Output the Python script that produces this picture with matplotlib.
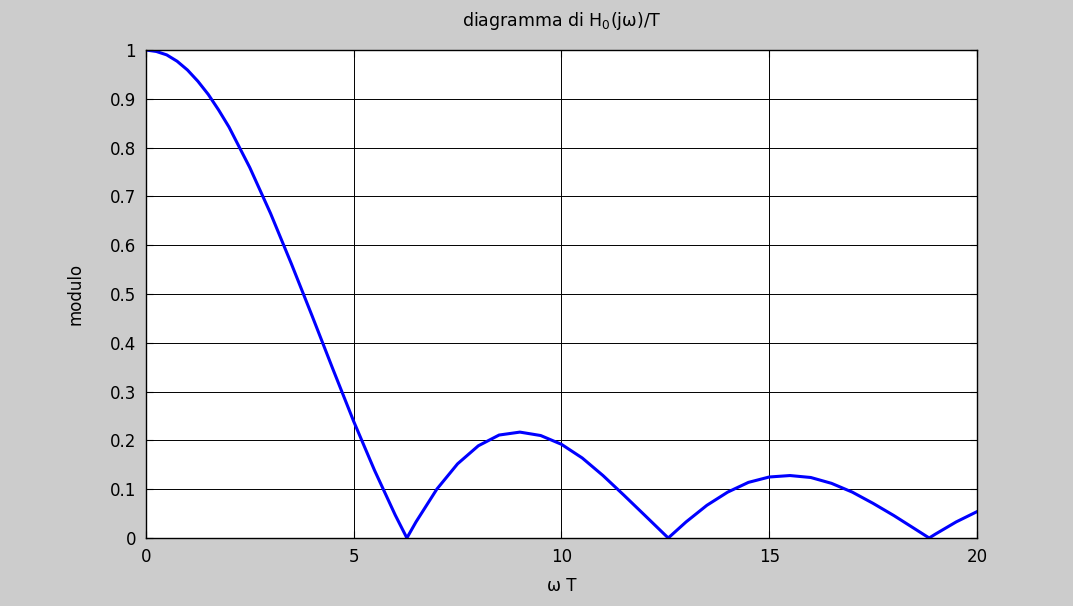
#modulus of H0(jw)/T, zero-order hold
import matplotlib
matplotlib.use("Agg")
import matplotlib.pyplot as plt

#values
wT = [0, 0.25, 0.5, 0.75, 1, 1.25, 1.5, 1.75, 2, 2.5, 3, 3.5, 4, 4.5, 5, 5.5, 6, 6.28,
      6.5, 7, 7.5, 8, 8.5, 9, 9.5, 10, 10.5, 11, 11.5, 12, 12.57, 13, 13.5, 14, 14.5,
      15, 15.5, 16, 16.5, 17, 17.5, 18, 18.5, 18.85, 19, 19.5, 20]
modulo = [1.0, 0.997, 0.99, 0.977, 0.959, 0.936, 0.909, 0.877, 0.842, 0.759, 0.665,
          0.562, 0.455, 0.346, 0.239, 0.139, 0.047, 0.0, 0.033, 0.100, 0.152, 0.189,
          0.211, 0.217, 0.210, 0.192, 0.164, 0.128, 0.088, 0.047, 0.0, 0.033, 0.067,
          0.094, 0.114, 0.125, 0.128, 0.124, 0.112, 0.094, 0.071, 0.046, 0.019, 0.0,
          0.008, 0.033, 0.054]

xticks = [0, 5, 10, 15, 20]
yticks = [0, 0.1, 0.2, 0.3, 0.4, 0.5, 0.6, 0.7, 0.8, 0.9, 1]
ytick_labels = ["0", "0.1", "0.2", "0.3", "0.4", "0.5", "0.6", "0.7", "0.8", "0.9", "1"]

plt.rcParams['font.family'] = ['DejaVu Sans']
plt.rcParams['mathtext.default'] = 'regular'

fig = plt.figure(figsize=(10.73, 6.06), dpi=100, facecolor="#cccccc")
ax = fig.add_axes([0.136, 0.1122, 0.7745, 0.8053])
ax.set_facecolor("white")

ax.plot(wT, modulo, color="#0000ff", linewidth=2.2)

ax.set_xlim(0, 20)
ax.set_ylim(0, 1)
ax.set_xticks(xticks)
ax.set_xticklabels([str(t) for t in xticks])
ax.set_yticks(yticks)
ax.set_yticklabels(ytick_labels)
ax.tick_params(direction="in", length=5, labelsize=12, colors="black",
               top=True, right=True, pad=7)
ax.grid(True, color="black", linewidth=0.7, linestyle="-")
for s in ax.spines.values():
    s.set_linewidth(1.0)

ax.set_title("diagramma di H$_0$(j\u03c9)/T", fontsize=12.5, pad=17)
ax.set_xlabel("\u03c9 T", fontsize=12, labelpad=8)
ax.set_ylabel("modulo", fontsize=12, labelpad=18)

plt.savefig("out.png", dpi=100, facecolor=fig.get_facecolor())
